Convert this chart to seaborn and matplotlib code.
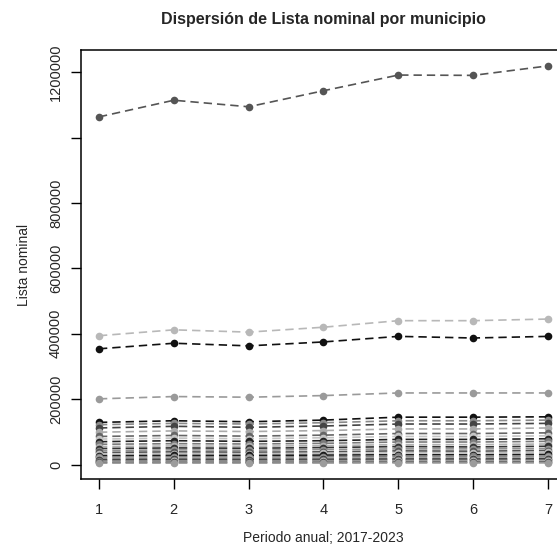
import pandas as pd
import matplotlib
matplotlib.use("Agg")
import matplotlib.pyplot as plt
import seaborn as sns
import numpy as np

sns.set_style("white")
plt.rcParams['font.family'] = ['Liberation Sans', 'DejaVu Sans']

periodo = [1, 2, 3, 4, 5, 6, 7]

# lista nominal por municipio
lista = {
    "m01": [1063000, 1114000, 1094000, 1143000, 1191000, 1190000, 1219000],
    "m02": [394000, 412000, 405000, 420000, 440000, 440000, 445000],
    "m03": [354000, 371000, 363000, 375000, 392000, 387000, 392000],
    "m04": [201000, 208000, 206000, 211000, 219000, 219000, 219000],
    "m05": [129000, 134000, 131000, 136000, 145000, 145000, 146000],
    "m06": [122000, 126000, 124000, 128000, 134000, 134000, 136000],
    "m07": [112000, 117000, 114000, 118000, 124000, 124000, 126000],
    "m08": [99000, 103000, 101000, 104000, 109000, 109000, 112000],
    "m09": [86000, 89000, 87000, 90000, 95000, 95000, 97000],
    "m10": [78000, 81000, 79000, 82000, 86000, 86000, 88000],
    "m11": [70000, 73000, 71000, 73000, 77000, 77000, 79000],
    "m12": [62000, 64000, 63000, 65000, 69000, 69000, 71000],
    "m13": [55000, 57000, 56000, 58000, 61000, 61000, 63000],
    "m14": [49000, 51000, 50000, 52000, 55000, 54000, 56000],
    "m15": [43000, 45000, 44000, 46000, 48000, 48000, 49000],
    "m16": [37000, 39000, 38000, 39000, 42000, 41000, 43000],
    "m17": [32000, 33000, 33000, 34000, 36000, 36000, 37000],
    "m18": [27000, 28000, 28000, 29000, 30000, 30000, 31000],
    "m19": [23000, 24000, 23000, 24000, 26000, 26000, 26000],
    "m20": [19000, 20000, 19500, 20000, 21000, 21000, 22000],
    "m21": [15000, 16000, 15500, 16000, 17000, 17000, 17500],
    "m22": [12000, 12500, 12300, 12800, 13500, 13400, 13800],
    "m23": [9000, 9500, 9300, 9600, 10200, 10100, 10400],
    "m24": [6500, 6800, 6700, 6900, 7300, 7300, 7500],
    "m25": [4500, 4700, 4600, 4800, 5100, 5000, 5200],
}

grises = ["#555555", "#b8b8b8", "#111111", "#9a9a9a", "#111111", "#8a8a8a",
          "#444444", "#aaaaaa", "#666666", "#c4c4c4", "#222222", "#7a7a7a",
          "#b0b0b0", "#333333", "#909090", "#555555", "#bdbdbd", "#1a1a1a",
          "#808080", "#a0a0a0", "#3a3a3a", "#707070", "#c0c0c0", "#4a4a4a",
          "#9c9c9c"]

df = pd.DataFrame([
    {"municipio": m, "periodo": p, "lista": v}
    for m, vals in lista.items() for p, v in zip(periodo, vals)
])

fig = plt.figure(figsize=(5.57, 5.51), dpi=100)
ax = fig.add_axes([81/557, 1 - 479/551, 485/557, 429/551])

sns.lineplot(data=df, x="periodo", y="lista", hue="municipio",
             palette=grises, marker="o", markersize=5.5, markeredgewidth=0,
             linestyle=(0, (5, 3)), linewidth=1.2, errorbar=None,
             legend=False, ax=ax)

# limites estilo R (4% de margen)
lo, hi = df["lista"].min(), df["lista"].max()
pad = 0.04 * (hi - lo)
ax.set_ylim(lo - pad, hi + pad)
ax.set_xlim(1 - 0.24, 7 + 0.24)

yt = [0, 200000, 400000, 600000, 800000, 1000000, 1200000]
ax.set_yticks(yt)
ax.set_yticklabels(["0", "200000", "400000", "600000", "800000", "", "1200000"],
                   rotation=90, va="center", fontsize=10.5)
ax.set_xticks(periodo)
ax.set_xticklabels([str(p) for p in periodo], fontsize=10.5)
ax.tick_params(axis="both", direction="out", length=7, width=1, color="black",
               left=True, bottom=True)
ax.tick_params(axis="x", pad=10)
ax.tick_params(axis="y", pad=6)

for s in ax.spines.values():
    s.set_color("black")
    s.set_linewidth(1.1)

ax.set_xlabel("Periodo anual; 2017-2023", fontsize=10, labelpad=10)
ax.set_ylabel("Lista nominal", fontsize=10, labelpad=13)
ax.set_title("Dispersión de Lista nominal por municipio", fontsize=11.5,
             fontweight="bold", pad=19)

fig.savefig("out.png", dpi=100, facecolor="white")
